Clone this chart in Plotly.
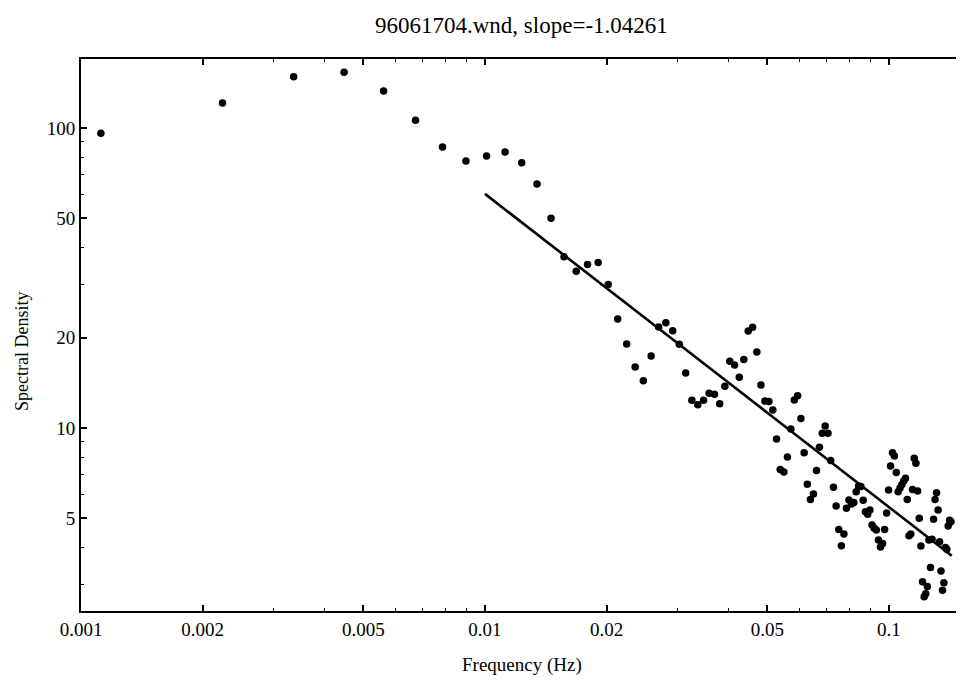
import plotly.graph_objects as go

# Frequencies (Hz) of the spectral estimates
freq = [0.00112, 0.00224, 0.00336, 0.00448, 0.00561, 0.00673, 0.00785, 0.00897, 0.01009, 0.01121,
        0.01233, 0.01345, 0.01457, 0.01569, 0.01682, 0.01794, 0.01906, 0.02018, 0.02130, 0.02242,
        0.02354, 0.02466, 0.02578, 0.02690, 0.02803, 0.02915, 0.03027, 0.03139, 0.03251, 0.03363,
        0.03475, 0.03587, 0.03699, 0.03811, 0.03924, 0.04036, 0.04148, 0.04260, 0.04372, 0.04484,
        0.04596, 0.04708, 0.04820, 0.04932, 0.05045, 0.05157, 0.05269, 0.05381, 0.05493, 0.05605,
        0.05717, 0.05829, 0.05941, 0.06053, 0.06166, 0.06278, 0.06390, 0.06502, 0.06614, 0.06726,
        0.06838, 0.06950, 0.07062, 0.07174, 0.07287, 0.07399, 0.07511, 0.07623, 0.07735, 0.07847,
        0.07959, 0.08071, 0.08183, 0.08295, 0.08408, 0.08520, 0.08632, 0.08744, 0.08856, 0.08968,
        0.09080, 0.09192, 0.09304, 0.09416, 0.09529, 0.09641, 0.09753, 0.09865, 0.09977, 0.10089,
        0.10201, 0.10313, 0.10425, 0.10537, 0.10650, 0.10762, 0.10874, 0.10986, 0.11098, 0.11210,
        0.11322, 0.11434, 0.11546, 0.11658, 0.11771, 0.11883, 0.11995, 0.12107, 0.12219, 0.12331,
        0.12443, 0.12555, 0.12667, 0.12779, 0.12892, 0.13004, 0.13116, 0.13228, 0.13340, 0.13452,
        0.13564, 0.13676, 0.13788, 0.13900, 0.14013, 0.14125, 0.14237]

# Spectral density values
density = [96.0, 121.2, 148.3, 153.4, 132.8, 106.1, 86.4, 77.6, 80.7, 83.2,
           76.6, 65.1, 50.0, 37.2, 33.3, 35.1, 35.6, 30.1, 23.1, 19.05,
           15.97, 14.38, 17.38, 21.71, 22.44, 21.1, 19.01, 15.25, 12.37, 11.96,
           12.37, 13.05, 12.95, 12.05, 13.79, 16.69, 16.22, 14.76, 16.92, 21.05,
           21.68, 17.92, 13.91, 12.30, 12.25, 11.48, 9.19, 7.27, 7.14, 8.0,
           9.92, 12.4, 12.8, 10.76, 8.27, 6.49, 5.78, 6.03, 7.21, 8.62,
           9.60, 10.15, 9.60, 7.79, 6.34, 5.50, 4.59, 4.05, 4.43, 5.40,
           5.75, 5.58, 5.64, 6.13, 6.41, 6.38, 5.74, 5.26, 5.16, 5.33,
           4.75, 4.63, 4.57, 4.23, 4.01, 4.12, 4.59, 5.21, 6.21, 7.47,
           8.27, 8.06, 7.10, 6.13, 6.31, 6.48, 6.66, 6.80, 5.78, 4.37,
           4.43, 6.24, 7.93, 7.63, 6.17, 5.0, 4.04, 3.07, 2.74, 2.80,
           2.96, 4.23, 3.43, 4.26, 4.96, 5.78, 6.08, 5.33, 4.18, 3.34,
           2.88, 3.05, 4.0, 3.94, 4.71, 4.93, 4.87]

# Fitted power-law line (slope = -1.04261)
fit_freq = [0.01, 0.143]
fit_density = [60.3, 3.75]

title_text = "96061704.wnd, slope=-1.04261"
x_title = "Frequency (Hz)"
y_title = "Spectral Density"
x_tick_vals = [0.001, 0.002, 0.005, 0.01, 0.02, 0.05, 0.1]
x_tick_text = ["0.001", "0.002", "0.005", "0.01", "0.02", "0.05", "0.1"]
x_minor_vals = [0.003, 0.004, 0.006, 0.007, 0.008, 0.009, 0.03, 0.04, 0.06, 0.07, 0.08, 0.09]
y_tick_vals = [5, 10, 20, 50, 100]
y_tick_text = ["5", "10", "20", "50", "100"]
y_minor_vals = [3, 4, 6, 7, 8, 9, 30, 40, 60, 70, 80, 90]

FONT = "Liberation Serif"

fig = go.Figure()
fig.add_trace(go.Scatter(x=freq, y=density, mode="markers",
                         marker=dict(color="black", size=7.5, line=dict(width=0)),
                         showlegend=False))
fig.add_trace(go.Scatter(x=fit_freq, y=fit_density, mode="lines",
                         line=dict(color="black", width=2.6),
                         showlegend=False))

axis_common = dict(
    type="log", showgrid=False, zeroline=False,
    showline=True, linecolor="black", linewidth=2,
    ticks="inside", ticklen=6, tickwidth=1.5, tickcolor="black",
    tickfont=dict(family=FONT, size=19, color="black"),
)

# page body has an 8px margin: figure is sized/placed to compensate
fig.update_layout(
    width=956, height=673,
    margin=dict(l=73, r=1, t=51, b=70),
    paper_bgcolor="white", plot_bgcolor="white",
    font=dict(family=FONT, size=19, color="black"),
    xaxis=dict(**axis_common, range=[-3, -0.8168], mirror="ticks",
               tickmode="array", tickvals=x_tick_vals, ticktext=x_tick_text,
               minor=dict(tickmode="array", tickvals=x_minor_vals, ticks="inside",
                          ticklen=3, tickwidth=1, tickcolor="black")),
    yaxis=dict(**axis_common, range=[0.39, 2.23], mirror=False,
               tickmode="array", tickvals=y_tick_vals, ticktext=y_tick_text,
               minor=dict(tickmode="array", tickvals=y_minor_vals, ticks="inside",
                          ticklen=3, tickwidth=1, tickcolor="black")),
    annotations=[
        dict(text=title_text, xref="paper", yref="paper", x=0.4989, y=1.0598,
             xanchor="center", yanchor="middle", showarrow=False,
             font=dict(family=FONT, size=23, color="black")),
        dict(text=x_title, xref="paper", yref="paper", x=0.5, y=-0.0978,
             xanchor="center", yanchor="middle", showarrow=False,
             font=dict(family=FONT, size=19, color="black")),
        dict(text=y_title, xref="paper", yref="paper", x=-0.0669, y=0.471,
             xanchor="center", yanchor="middle", showarrow=False, textangle=-90,
             font=dict(family=FONT, size=18, color="black")),
    ],
)

fig.write_html("out.html")
